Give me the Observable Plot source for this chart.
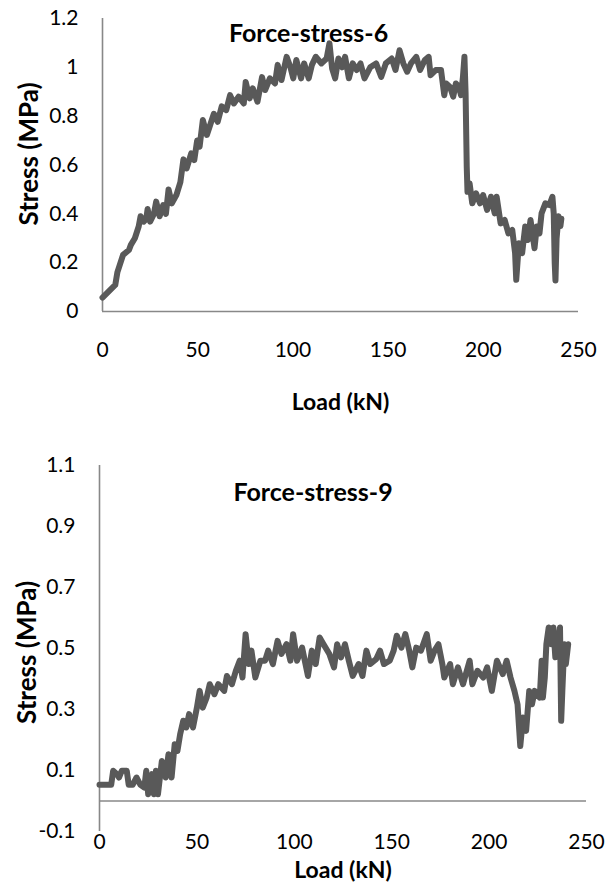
<!DOCTYPE html>
<html><head><meta charset="utf-8">
<script src="https://cdn.jsdelivr.net/npm/d3@7"></script>
<script src="https://cdn.jsdelivr.net/npm/@observablehq/plot@0.6"></script>
<style>
body{margin:0;background:#fff;}
#c svg{display:block;}
</style>
</head><body><div id="c"></div>
<script>
const xTicks = [0, 50, 100, 150, 200, 250];
const yTicks6 = [0, 0.2, 0.4, 0.6, 0.8, 1, 1.2];
const yTicks9 = [-0.1, 0.1, 0.3, 0.5, 0.7, 0.9, 1.1];

const load6 = [0,6.7,7.8,10.8,13.9,14.9,17,19,20,21.7,
23,23.7,25,27,28.2,30,31.9,33.3,34.7,36.4,
38.8,40.9,42.5,44.2,46.6,48.2,49.7,51,52.7,54.8,
56.8,58.5,60.5,62.6,65,67,69,71.5,74.2,75.2,
77.3,78.9,81.4,83.8,85.4,87.9,90.6,92,94,96.7,
98.7,100.2,101.8,104.3,105.9,108.3,110,112,115,117.7,
119.2,120.6,122.2,123.9,125.9,127.4,129.4,131.4,133.5,135.5,
137.6,140.6,143.7,146.4,148.8,151.9,153.9,156,158,160,
162,164.8,166.8,169.3,171.3,172.3,175,177.8,179.5,180.5,
182.5,184.2,185.6,187.2,188.3,189.3,190.1,190.7,191.3,191.7,
192.8,194.2,196.2,198.3,199.9,202,204,206,207,209.1,
211.2,213.2,215.2,216.7,217.3,218.7,220.4,222,223.4,224.8,
226.9,228.1,229.5,230.6,232.6,234.7,236.3,237,237.5,237.9,
238.5,239.5,240.5,241];
const stress6 = [0.057,0.109,0.16,0.232,0.252,0.273,0.30,0.348,0.39,0.368,
0.38,0.42,0.368,0.40,0.45,0.39,0.436,0.40,0.50,0.443,
0.477,0.53,0.623,0.586,0.648,0.62,0.70,0.675,0.784,0.723,
0.77,0.81,0.777,0.84,0.825,0.886,0.852,0.88,0.852,0.94,
0.873,0.914,0.859,0.96,0.907,0.955,0.934,1.01,0.948,1.043,
1.0,0.955,1.03,0.955,1.016,0.955,1.01,1.043,1.016,1.036,
1.098,0.995,0.955,1.036,1.0,1.043,0.955,1.016,0.989,1.016,
0.955,1.0,1.016,0.961,1.016,1.036,0.989,1.07,1.016,0.982,
1.016,1.043,0.989,1.03,1.043,0.968,0.989,0.989,0.886,0.934,
0.92,0.88,0.934,0.92,0.886,0.96,1.043,0.893,0.593,0.49,
0.525,0.443,0.484,0.443,0.477,0.416,0.47,0.402,0.47,0.361,
0.375,0.32,0.334,0.239,0.13,0.28,0.239,0.348,0.293,0.375,
0.259,0.348,0.32,0.402,0.443,0.436,0.47,0.40,0.2,0.127,
0.3,0.39,0.35,0.38];

const load9 = [0,6,7,9,10,11.4,14,15,17,19,
21,23,24,25,27,28,29,30,32,34,
35.4,37,38.6,40,41.4,43,44.6,46,48,50,
51.4,53,55,56.6,59,61,64,65.4,68,70,
72,73.4,75,76.6,78,80,82.6,85,86.6,89,
91.4,93.4,96,98,99.4,101.4,104,107,109,111,
113,115,118,120.4,122,124,126,128,130,133,
135,137,139,142,144,146,149,151,152.6,155,
157,159,160.6,162.6,165,168,170,172,174,176,
177,180,181.4,184,186.6,190,191.4,194,197,199,
201.4,204,207,209,211,213,214.6,216,217.4,219,
220.6,222,223.4,226,227,227.6,228.6,229.4,230.6,232,
233,234,235.4,236.4,237,237.6,238.6,239.4,240.6];
const stress9 = [0.053,0.053,0.099,0.088,0.077,0.099,0.099,0.053,0.053,0.077,
0.053,0.044,0.099,0.022,0.088,0.022,0.099,0.022,0.131,0.077,
0.153,0.077,0.186,0.164,0.219,0.263,0.241,0.285,0.241,0.306,
0.361,0.306,0.339,0.383,0.35,0.383,0.361,0.41,0.383,0.427,
0.46,0.405,0.547,0.449,0.493,0.405,0.46,0.46,0.493,0.449,
0.525,0.482,0.514,0.46,0.547,0.46,0.503,0.41,0.493,0.449,
0.536,0.514,0.482,0.438,0.514,0.471,0.514,0.46,0.41,0.449,
0.41,0.493,0.449,0.465,0.493,0.449,0.46,0.493,0.542,0.503,
0.547,0.493,0.438,0.503,0.493,0.547,0.46,0.493,0.514,0.449,
0.405,0.449,0.383,0.438,0.383,0.46,0.383,0.427,0.405,0.438,
0.361,0.46,0.416,0.46,0.405,0.361,0.317,0.18,0.274,0.23,
0.361,0.317,0.361,0.339,0.46,0.339,0.405,0.514,0.569,0.514,
0.569,0.471,0.514,0.569,0.263,0.361,0.514,0.449,0.514];

const FONT = "Lato, 'Open Sans', sans-serif";
const AXIS = "#888888";
const LINE = "#595959";
const fmt = d => String(d);

function makeChart(o) {
  const data = o.load.map((x, i) => ({x, y: o.stress[i]}));
  return Plot.plot({
    width: 610,
    height: o.height,
    marginLeft: o.ml, marginRight: o.mr, marginTop: o.mt, marginBottom: o.mb,
    style: {fontFamily: FONT, fontSize: "21px", color: "#000", background: "#fff", overflow: "visible"},
    x: {domain: [0, 250], ticks: xTicks, tickFormat: fmt, tickSize: 0, tickPadding: o.xPad, label: null},
    y: {domain: o.yDomain, ticks: o.yTicks, tickFormat: fmt, tickSize: 0, tickPadding: 24, label: null},
    marks: [
      Plot.ruleX([0], {stroke: AXIS, strokeWidth: 1.6}),
      Plot.ruleY([0], {stroke: AXIS, strokeWidth: 1.6}),
      Plot.line(data, {x: "x", y: "y", stroke: LINE, strokeWidth: 6, strokeLinejoin: "round", strokeLinecap: "round"}),
      Plot.text([o.title], {text: d => d, frameAnchor: "top", textAnchor: "middle", dx: o.tdx, dy: o.tdy, lineAnchor: "middle", fontWeight: "bold", fontSize: 25, fill: "#000"}),
      Plot.text(["Load (kN)"], {text: d => d, frameAnchor: "bottom", textAnchor: "middle", dy: o.xlDy, lineAnchor: "middle", fontWeight: "bold", fontSize: 23, fill: "#000"}),
      Plot.text(["Stress (MPa)"], {text: d => d, frameAnchor: "left", textAnchor: "middle", rotate: -90, dx: o.ylDx, dy: o.ylDy, lineAnchor: "middle", fontWeight: "bold", fontSize: 26, fill: "#000"})
    ]
  });
}

const c = document.getElementById("c");
c.appendChild(makeChart({
  load: load6, stress: stress6, title: "Force-stress-6",
  height: 430, ml: 102, mr: 32, mt: 18, mb: 119,
  yDomain: [0, 1.2], yTicks: yTicks6, xPad: 31,
  tdx: -32, tdy: 15, xlDy: 91, ylDx: -73, ylDy: -11
}));
c.appendChild(makeChart({
  load: load9, stress: stress9, title: "Force-stress-9",
  height: 455, ml: 99, mr: 24, mt: 35, mb: 54,
  yDomain: [-0.1, 1.1], yTicks: yTicks9, xPad: 3,
  tdx: -30, tdy: 27, xlDy: 39, ylDx: -72, ylDy: 4
}));
</script>
</body></html>
